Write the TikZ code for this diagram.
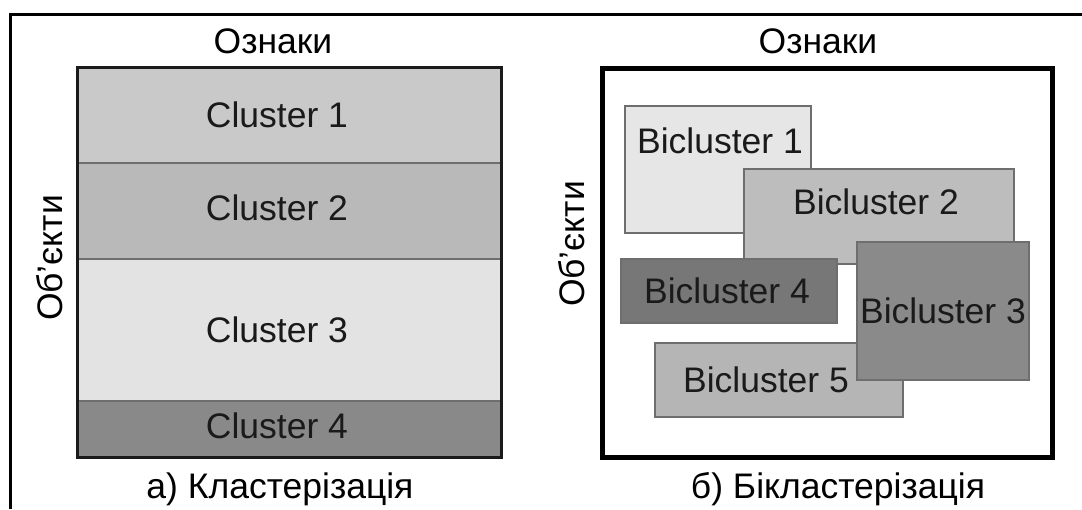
\documentclass[tikz,border=0pt]{standalone}
\usepackage{fontspec}
\setmainfont{Liberation Sans}
\definecolor{cA}{HTML}{C9C9C9}
\definecolor{cB}{HTML}{B9B9B9}
\definecolor{cC}{HTML}{E3E3E3}
\definecolor{cD}{HTML}{898989}
\definecolor{bA}{HTML}{E6E6E6}
\definecolor{bB}{HTML}{BDBDBD}
\definecolor{bC}{HTML}{8A8A8A}
\definecolor{bD}{HTML}{777777}
\definecolor{bE}{HTML}{B5B5B5}
\definecolor{edge}{HTML}{6E6E6E}
\definecolor{ink}{HTML}{1A1A1A}
\tikzset{
  big/.style={font=\fontsize{35.5}{42}\selectfont, text=black, inner sep=0pt},
  lbl/.style={font=\fontsize{35.5}{42}\selectfont, text=ink, inner sep=0pt},
  region/.style={anchor=north west, inner sep=0pt, outer sep=0pt, draw=none},
  clsep/.style={draw=edge, line width=2pt},
  bic/.style={anchor=north west, inner sep=0pt, outer sep=0pt, draw=edge, line width=1.5pt},
}
\begin{document}
\begin{tikzpicture}[x=1pt,y=-1pt]
\useasboundingbox (0,0) rectangle (1082,509);
% outer frame (partial)
\draw[line width=3pt, black] (1082,14) -- (10,14) -- (10,509);

% ---- left panel: clustering ----
\node[region, fill=cA, minimum width=424pt, minimum height=97pt] (c1) at (76,66) {};
\node[region, fill=cB, minimum width=424pt, minimum height=96pt] (c2) at (76,163) {};
\node[region, fill=cC, minimum width=424pt, minimum height=142pt] (c3) at (76,259) {};
\node[region, fill=cD, minimum width=424pt, minimum height=55pt] (c4) at (76,401) {};
\draw[clsep] (c1.south west) -- (c1.south east);
\draw[clsep] (c2.south west) -- (c2.south east);
\draw[clsep] (c3.south west) -- (c3.south east);
\node[draw=ink, line width=2.5pt, anchor=north west, inner sep=0pt, minimum width=424pt, minimum height=390pt] (lp) at (76,66) {};
\node[lbl] (t1) at (277,115) {Cluster 1};
\node[lbl] (t2) at (277,208) {Cluster 2};
\node[lbl] (t3) at (277,330) {Cluster 3};
\node[lbl] (t4) at (277,426) {Cluster 4};
\node[big, anchor=base] (lf) at (273,53) {Ознаки};
\node[big, anchor=base, rotate=90] (lo) at (62,258) {Об'єкти};
\node[big, anchor=base] (lc) at (280,498) {а) Кластерізація};

% ---- right panel: biclustering ----
\node[draw=black, line width=5pt, anchor=north west, inner sep=0pt, minimum width=450pt, minimum height=389pt] (rp) at (600,66) {};
\node[bic, fill=bA, minimum width=186pt, minimum height=127pt] (b1) at (625,106) {};
\node[bic, fill=bB, minimum width=270pt, minimum height=95pt] (b2) at (744,169) {};
\node[bic, fill=bD, minimum width=216pt, minimum height=64pt] (b4) at (621,259) {};
\node[bic, fill=bE, minimum width=248pt, minimum height=74pt] (b5) at (655,343) {};
\node[bic, fill=bC, minimum width=172pt, minimum height=138pt] (b3) at (857,242) {};
\node[lbl] (s1) at (720,141) {Bicluster 1};
\node[lbl] (s2) at (876,202) {Bicluster 2};
\node[lbl] (s3) at (943,311) {Bicluster 3};
\node[lbl] (s4) at (727,291) {Bicluster 4};
\node[lbl] (s5) at (766,380) {Bicluster 5};
\node[big, anchor=base] (rf) at (818,53) {Ознаки};
\node[big, anchor=base, rotate=90] (ro) at (584,244) {Об'єкти};
\node[big, anchor=base] (rc) at (838,498) {б) Бікластерізація};
\end{tikzpicture}
\end{document}
